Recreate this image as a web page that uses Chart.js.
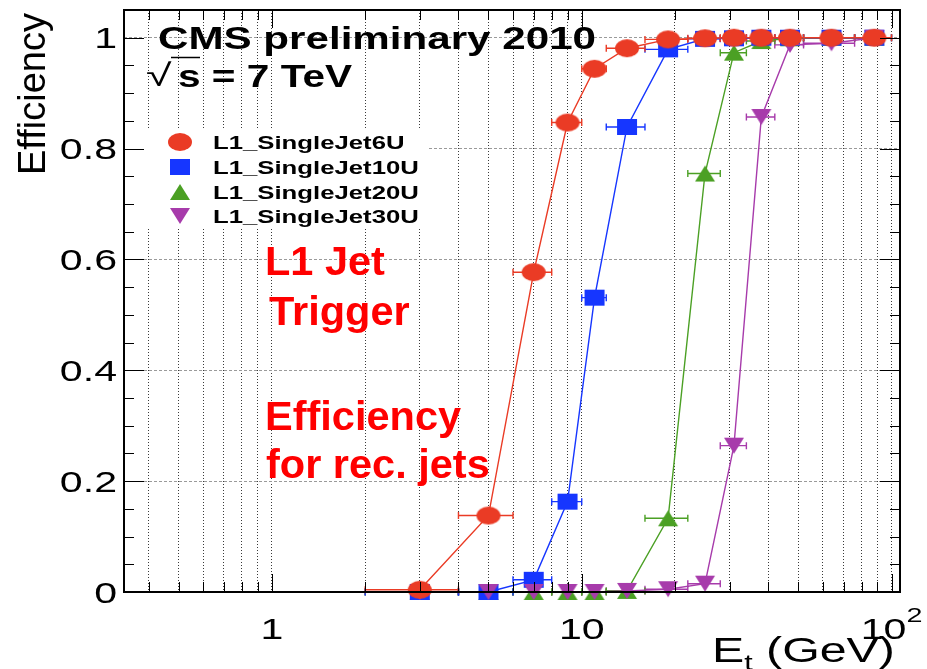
<!DOCTYPE html>
<html>
<head>
<meta charset="utf-8">
<title>L1 Jet Trigger Efficiency</title>
<style>
  html, body { margin: 0; padding: 0; background: #ffffff; }
  #wrap { width: 927px; height: 669px; position: relative; }
</style>
<script src="https://cdn.jsdelivr.net/npm/chart.js@4.4.0/dist/chart.umd.min.js"></script>
</head>
<body>
<div id="wrap"><canvas id="eff" width="927" height="669"></canvas></div>
<script>
// Reconstructed-jet Et bins (GeV): centres and edges
const binCenters = [3, 5, 7, 9, 11, 14, 19, 25, 31, 38, 47, 64, 88];
const binLow     = [2, 4, 6, 8, 10, 12, 16, 22, 28, 34, 42, 52, 76];
const binHigh    = [4, 6, 8, 10, 12, 16, 22, 28, 34, 42, 52, 76, 100];

// Trigger efficiency per bin for each L1 single-jet threshold
const effJet6U  = [0.004, 0.138, 0.577, 0.847, 0.944, 0.981, 0.997, 0.999, 1.0, 1.0, 1.0, 1.0, 1.0];
const effJet10U = [0.0, 0.0, 0.022, 0.163, 0.531, 0.839, 0.979, 0.998, 0.999, 1.0, 1.0, 1.0, 1.0];
const effJet20U = [0.0, 0.0, 0.0, 0.0, 0.0, 0.002, 0.133, 0.755, 0.973, 0.994, 0.999, 1.0, 1.0];
const effJet30U = [0.0, 0.0, 0.0, 0.0, 0.0, 0.002, 0.005, 0.015, 0.264, 0.857, 0.987, 0.99, 1.0];

const seriesNames = ['L1_SingleJet6U', 'L1_SingleJet10U', 'L1_SingleJet20U', 'L1_SingleJet30U'];

// Axis ticks
const yTickValues = [0, 0.2, 0.4, 0.6, 0.8, 1];
const yTickLabels = ['0', '0.2', '0.4', '0.6', '0.8', '1'];
const yMinorValues = [0.05, 0.1, 0.15, 0.25, 0.3, 0.35, 0.45, 0.5, 0.55, 0.65, 0.7, 0.75, 0.85, 0.9, 0.95, 1.05];
const xGridValues = [0.4, 0.5, 0.6, 0.7, 0.8, 0.9, 1, 2, 3, 4, 5, 6, 7, 8, 9, 10, 20, 30, 40, 50, 60, 70, 80, 90, 100];
const xMajorValues = [1, 10, 100];
const xTickBase = ['1', '10', '10'];
const xTickExp  = ['', '', '2'];

const FONT = '"Liberation Sans", Arial, Helvetica, sans-serif';
const COLORS = ['#ea3b25', '#1636ff', '#4ba024', '#a73bab'];

// Filled marker glyphs (slightly wide, like the original plot)
function markerImage(shape, color, w, h) {
  const c = document.createElement('canvas');
  c.width = w + 2; c.height = h + 2;
  const g = c.getContext('2d');
  const cx = c.width / 2, cy = c.height / 2;
  g.fillStyle = color;
  g.beginPath();
  if (shape === 'circle') {
    g.ellipse(cx, cy, w / 2, h / 2, 0, 0, Math.PI * 2);
  } else if (shape === 'square') {
    g.rect(cx - w / 2, cy - h / 2, w, h);
  } else if (shape === 'up') {
    g.moveTo(cx, cy - h / 2); g.lineTo(cx + w / 2, cy + h / 2); g.lineTo(cx - w / 2, cy + h / 2);
    g.closePath();
  } else {
    g.moveTo(cx, cy + h / 2); g.lineTo(cx + w / 2, cy - h / 2); g.lineTo(cx - w / 2, cy - h / 2);
    g.closePath();
  }
  g.fill();
  return c;
}

const markers = [
  markerImage('circle', COLORS[0], 24, 18),
  markerImage('square', COLORS[1], 20, 16),
  markerImage('up', COLORS[2], 20, 16),
  markerImage('down', COLORS[3], 20, 16)
];

const seriesValues = [effJet6U, effJet10U, effJet20U, effJet30U];
// red on top, then purple, blue, green at the bottom
const drawOrder = [0, 2, 3, 1];

const datasets = seriesValues.map((vals, s) => ({
  label: seriesNames[s],
  data: binCenters.map((x, i) => ({ x: x, y: vals[i] })),
  borderColor: COLORS[s],
  backgroundColor: COLORS[s],
  borderWidth: 1.4,
  pointStyle: markers[s],
  pointRadius: 6,
  pointHoverRadius: 6,
  tension: 0,
  fill: false,
  clip: false,
  order: drawOrder[s]
}));

function stretchText(ctx, text, x, y, font, sx, align) {
  ctx.save();
  ctx.font = font;
  ctx.translate(x, y);
  ctx.scale(sx, 1);
  ctx.textAlign = align || 'left';
  ctx.textBaseline = 'alphabetic';
  ctx.fillText(text, 0, 0);
  ctx.restore();
}

const decor = {
  id: 'decor',
  beforeDatasetsDraw(chart) {
    const ctx = chart.ctx;
    const xs = chart.scales.x, ys = chart.scales.y;
    // legend background
    ctx.save();
    ctx.fillStyle = '#ffffff';
    ctx.fillRect(chart.chartArea.left + 1, 128, 302, 100);
    ctx.restore();
    // horizontal error bars (bin widths)
    ctx.save();
    ctx.lineWidth = 1.4;
    for (let s = seriesValues.length - 1; s >= 0; s--) {
      ctx.strokeStyle = COLORS[s];
      const vals = seriesValues[s];
      for (let i = 0; i < binCenters.length; i++) {
        const y = ys.getPixelForValue(vals[i]);
        const x0 = xs.getPixelForValue(binLow[i]);
        const x1 = xs.getPixelForValue(binHigh[i]);
        ctx.beginPath();
        ctx.moveTo(x0, y); ctx.lineTo(x1, y);
        ctx.moveTo(x0, y - 3.5); ctx.lineTo(x0, y + 3.5);
        ctx.moveTo(x1, y - 3.5); ctx.lineTo(x1, y + 3.5);
        ctx.stroke();
      }
    }
    ctx.restore();
  },
  afterDatasetsDraw(chart) {
    const ctx = chart.ctx;
    const a = chart.chartArea;
    const xs = chart.scales.x, ys = chart.scales.y;
    ctx.save();
    ctx.fillStyle = '#000';
    ctx.strokeStyle = '#000';

    // tick marks on all four sides, pointing inwards
    ctx.lineWidth = 1;
    ctx.beginPath();
    yTickValues.forEach(v => {
      const y = Math.round(ys.getPixelForValue(v)) + 0.5;
      ctx.moveTo(a.left, y); ctx.lineTo(a.left + 20, y);
      ctx.moveTo(a.right, y); ctx.lineTo(a.right - 20, y);
    });
    yMinorValues.forEach(v => {
      const y = Math.round(ys.getPixelForValue(v)) + 0.5;
      ctx.moveTo(a.left, y); ctx.lineTo(a.left + 10, y);
      ctx.moveTo(a.right, y); ctx.lineTo(a.right - 10, y);
    });
    xGridValues.forEach(v => {
      const x = Math.round(xs.getPixelForValue(v)) + 0.5;
      const len = xMajorValues.includes(v) ? 18 : 10;
      ctx.moveTo(x, a.bottom); ctx.lineTo(x, a.bottom - len);
      ctx.moveTo(x, a.top); ctx.lineTo(x, a.top + len);
    });
    ctx.stroke();

    // frame
    ctx.lineWidth = 2;
    ctx.strokeRect(a.left, a.top, a.right - a.left, a.bottom - a.top);

    // y tick labels
    const tickFont = '30px ' + FONT;
    yTickValues.forEach((v, i) => {
      const y = ys.getPixelForValue(v) + 10.5;
      stretchText(ctx, yTickLabels[i], 117, y, tickFont, 1.37, 'right');
    });

    // x tick labels (with power-of-ten exponent)
    xMajorValues.forEach((v, i) => {
      const x = xs.getPixelForValue(v);
      ctx.font = tickFont;
      const wb = ctx.measureText(xTickBase[i]).width * 1.37;
      ctx.font = '21px ' + FONT;
      const we = xTickExp[i] ? ctx.measureText(xTickExp[i]).width * 1.37 : 0;
      const x0 = x - (wb + we) / 2;
      stretchText(ctx, xTickBase[i], x0, 639, tickFont, 1.37, 'left');
      if (xTickExp[i]) stretchText(ctx, xTickExp[i], x0 + wb, 622, '21px ' + FONT, 1.37, 'left');
    });

    // x axis title: E_t (GeV)
    let tx = 712;
    const sx = 1.38;
    ctx.font = '35px ' + FONT;
    stretchText(ctx, 'E', tx, 662, '35px ' + FONT, sx, 'left');
    tx += ctx.measureText('E').width * sx;
    stretchText(ctx, 't', tx, 670, '22px ' + FONT, sx, 'left');
    ctx.font = '22px ' + FONT;
    tx += ctx.measureText('t').width * sx;
    stretchText(ctx, ' (GeV)', tx, 662, '35px ' + FONT, sx, 'left');

    // y axis title
    ctx.save();
    ctx.font = '38px ' + FONT;
    ctx.translate(45, 175);
    ctx.rotate(-Math.PI / 2);
    ctx.textAlign = 'left';
    ctx.textBaseline = 'alphabetic';
    ctx.fillText('Efficiency', 0, 0);
    ctx.restore();

    // experiment label
    stretchText(ctx, 'CMS preliminary 2010', 158, 49, 'bold 32px ' + FONT, 1.317, 'left');
    stretchText(ctx, '\u221A', 146, 86, '31px ' + FONT, 1.5, 'left');
    ctx.lineWidth = 1.5;
    ctx.beginPath();
    ctx.moveTo(171, 57.5); ctx.lineTo(200, 57.5);
    ctx.stroke();
    stretchText(ctx, 's = 7 TeV', 178, 87, 'bold 31px ' + FONT, 1.31, 'left');

    // legend entries
    const legendY = [142, 167, 192, 216];
    seriesNames.forEach((name, s) => {
      const m = markers[s];
      ctx.drawImage(m, 180 - m.width / 2, legendY[s] - m.height / 2);
      ctx.fillStyle = '#000';
      stretchText(ctx, name, 213, legendY[s] + 6.5, 'bold 18.5px ' + FONT, 1.39, 'left');
    });

    // annotation
    ctx.fillStyle = '#ff0000';
    const redFont = 'bold 41.5px ' + FONT;
    stretchText(ctx, 'L1 Jet', 265, 275, redFont, 1, 'left');
    stretchText(ctx, 'Trigger', 269, 325, redFont, 1, 'left');
    stretchText(ctx, 'Efficiency', 265, 430, redFont, 1, 'left');
    stretchText(ctx, 'for rec. jets', 266, 478, redFont, 1, 'left');
    ctx.restore();
  }
};

new Chart(document.getElementById('eff'), {
  type: 'line',
  data: { datasets: datasets },
  options: {
    responsive: false,
    animation: false,
    events: [],
    layout: { padding: { top: 10, right: 27, left: 0, bottom: 0 } },
    plugins: { legend: { display: false }, tooltip: { enabled: false } },
    scales: {
      x: {
        type: 'logarithmic',
        bounds: 'data',
        min: 0.333,
        max: 106.5,
        afterFit(scale) { scale.height = 77; },
        afterBuildTicks(scale) { scale.ticks = xGridValues.map(v => ({ value: v })); },
        ticks: { display: false, autoSkip: false },
        grid: { color: '#3a3a3a', lineWidth: 1, drawTicks: false },
        border: { display: false, dash: [1, 2] }
      },
      y: {
        type: 'linear',
        bounds: 'data',
        min: 0,
        max: 1.05,
        afterFit(scale) { scale.width = 124; },
        afterBuildTicks(scale) { scale.ticks = yTickValues.map(v => ({ value: v })); },
        ticks: { display: false, autoSkip: false },
        grid: { color: '#9a9a9a', lineWidth: 1, drawTicks: false },
        border: { display: false, dash: [3, 2] }
      }
    }
  },
  plugins: [decor]
});
</script>
</body>
</html>
